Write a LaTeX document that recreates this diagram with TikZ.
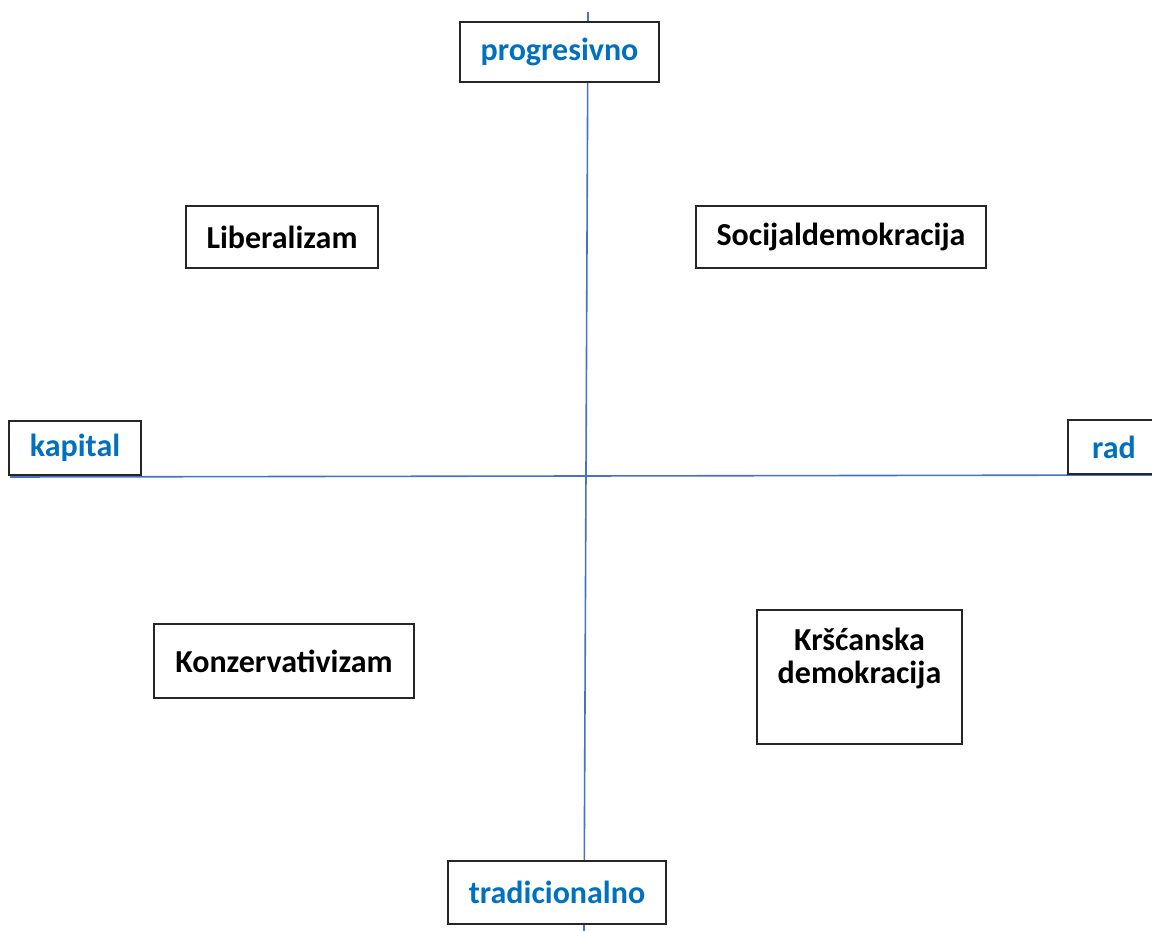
\documentclass[tikz,border=0pt]{standalone}
\usepackage{fontspec}
\setmainfont{Carlito}
\definecolor{labelblue}{RGB}{0,112,192}
\definecolor{axisblue}{RGB}{68,114,196}
\begin{document}
\begin{tikzpicture}[x=1pt,y=-1pt,
  box/.style={draw=black!85,line width=1.3pt,fill=white,rectangle,inner sep=0pt,
    font=\fontsize{32}{33}\selectfont\bfseries,align=center},
  axislabel/.style={box,text=labelblue},
  axisline/.style={draw=axisblue,line width=1.6pt}]
\useasboundingbox (0,0) rectangle (1152,931);
\clip (0,0) rectangle (1152,931);
\coordinate (left) at (10,477);
\coordinate (right) at (1152,475);
\coordinate (top) at (588,12);
\coordinate (bottom) at (584,931);
\draw[axisline] (left) -- (right);
\draw[axisline] (top) -- (bottom);
\node[axislabel,minimum width=199pt,minimum height=60pt] (prog) at (559.5,52) {progresivno};
\node[axislabel,minimum width=218pt,minimum height=63pt] (trad) at (557,892.5) {tradicionalno};
\node[axislabel,minimum width=132pt,minimum height=54pt] (kap) at (75,448) {kapital};
\node[axislabel,minimum width=92pt,minimum height=54pt] (rad) at (1114,447) {rad};
\node[box,minimum width=192pt,minimum height=62pt] (lib) at (282,237) {Liberalizam};
\node[box,minimum width=290pt,minimum height=62pt] (soc) at (841,237) {Socijaldemokracija};
\node[box,minimum width=260pt,minimum height=74pt] (kon) at (284,661) {Konzervativizam};
\node[box,minimum width=205pt,minimum height=134pt] (krs) at (859.5,677) {Kršćanska\\demokracija\\\strut};
\end{tikzpicture}
\end{document}
